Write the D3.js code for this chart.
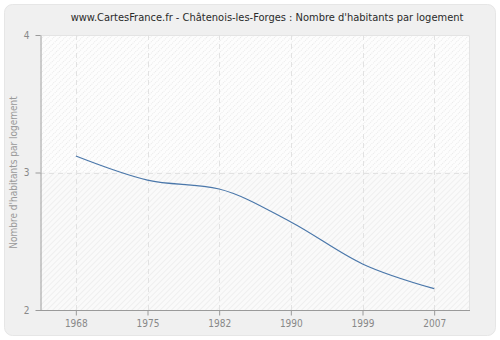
<!DOCTYPE html>
<html>
<head>
<meta charset="utf-8">
<script src="https://cdn.jsdelivr.net/npm/d3@7"></script>
<style>
  html, body { margin: 0; padding: 0; background: #ffffff; }
  svg { display: block; }
</style>
</head>
<body>
<svg id="chart" width="500" height="340"></svg>
<script>
const years = ["1968", "1975", "1982", "1990", "1999", "2007"];
const values = [3.12, 2.945, 2.88, 2.64, 2.335, 2.155];
const yTicks = [2, 3, 4];
const titleText = "www.CartesFrance.fr - Châtenois-les-Forges : Nombre d'habitants par logement";
const yLabel = "Nombre d'habitants par logement";

const FONT = "'DejaVu Sans Condensed', 'DejaVu Sans', Verdana, sans-serif";
const svg = d3.select("#chart");
const W = 500, H = 340;
const m = { left: 40, right: 30, top: 35, bottom: 30 };
const x0 = m.left, x1 = W - m.right, y0 = m.top, y1 = H - m.bottom;

// outer panel
svg.append("rect")
  .attr("x", 4.5).attr("y", 4.5).attr("width", W - 9).attr("height", H - 9)
  .attr("rx", 8).attr("ry", 8)
  .attr("fill", "#f0f0f0").attr("stroke", "#e6e6e6").attr("stroke-width", 1);

const defs = svg.append("defs");
function hatch(id, size, bg, line, dash) {
  const p = defs.append("pattern").attr("id", id)
    .attr("patternUnits", "userSpaceOnUse").attr("width", size).attr("height", size)
    .attr("patternTransform", "rotate(45)");
  p.append("rect").attr("width", size).attr("height", size).attr("fill", bg);
  const l = p.append("line").attr("x1", 0.5).attr("y1", 0).attr("x2", 0.5).attr("y2", size)
    .attr("stroke", line).attr("stroke-width", 1);
  if (dash) l.attr("stroke-dasharray", dash);
}
hatch("hatchUpper", 4, "#fdfdfd", "#e9e9e9", "1,1");
hatch("hatchLower", 4, "#fafafa", "#efefef", null);

const x = d3.scalePoint().domain(years).range([x0, x1]).padding(0.5);
const y = d3.scaleLinear().domain([2, 4]).range([y1, y0]);

// plot background
svg.append("rect").attr("x", x0).attr("y", y(4)).attr("width", x1 - x0).attr("height", y(3) - y(4))
  .attr("fill", "url(#hatchUpper)");
svg.append("rect").attr("x", x0).attr("y", y(3)).attr("width", x1 - x0).attr("height", y(2) - y(3))
  .attr("fill", "url(#hatchLower)");

// plot frame (top / right)
svg.append("path")
  .attr("d", `M${x0},${y0 + 0.5}H${x1 - 0.5}V${y1}`)
  .attr("fill", "none").attr("stroke", "#e4e4e4");

// grid
const grid = svg.append("g").attr("stroke", "#e2e2e2").attr("stroke-dasharray", "5,4").attr("fill", "none");
years.forEach(yr => {
  const px = Math.round(x(yr)) + 0.5;
  grid.append("line").attr("x1", px).attr("x2", px).attr("y1", y0).attr("y2", y1);
});
yTicks.filter(t => t > 2 && t < 4).forEach(t => {
  const py = Math.round(y(t)) + 0.5;
  grid.append("line").attr("x1", x0).attr("x2", x1).attr("y1", py).attr("y2", py);
});

// axes
const xAxis = svg.append("g").attr("transform", `translate(0,${y1 + 0.5})`)
  .call(d3.axisBottom(x).tickSize(5).tickPadding(4).tickSizeOuter(0));
const yAxis = svg.append("g").attr("transform", `translate(${x0 + 0.5},0)`)
  .call(d3.axisLeft(y).tickValues(yTicks).tickFormat(d3.format("d")).tickSize(5).tickPadding(6).tickSizeOuter(0));
[xAxis, yAxis].forEach(a => {
  a.select(".domain").attr("stroke", "#9a9a9a");
  a.selectAll(".tick line").attr("stroke", "#9a9a9a");
  a.selectAll(".tick text").attr("fill", "#888888")
    .style("font-family", FONT).style("font-size", "10px");
});
xAxis.select(".domain").attr("d", `M${x0},0H${x1}`);

// series line
const line = d3.line()
  .x((d, i) => x(years[i]))
  .y(d => y(d))
  .curve(d3.curveMonotoneX);
svg.append("path").datum(values)
  .attr("d", line)
  .attr("fill", "none").attr("stroke", "#4a77aa").attr("stroke-width", 1.2);

// title
svg.append("text").attr("x", 267).attr("y", 21).attr("text-anchor", "middle")
  .attr("fill", "#2a2a2a")
  .style("font-family", FONT).style("font-size", "11px")
  .text(titleText);

// y label
svg.append("text")
  .attr("transform", `translate(17,${(y0 + y1) / 2}) rotate(-90)`)
  .attr("text-anchor", "middle").attr("fill", "#999999")
  .style("font-family", FONT).style("font-size", "10px")
  .text(yLabel);
</script>
</body>
</html>
